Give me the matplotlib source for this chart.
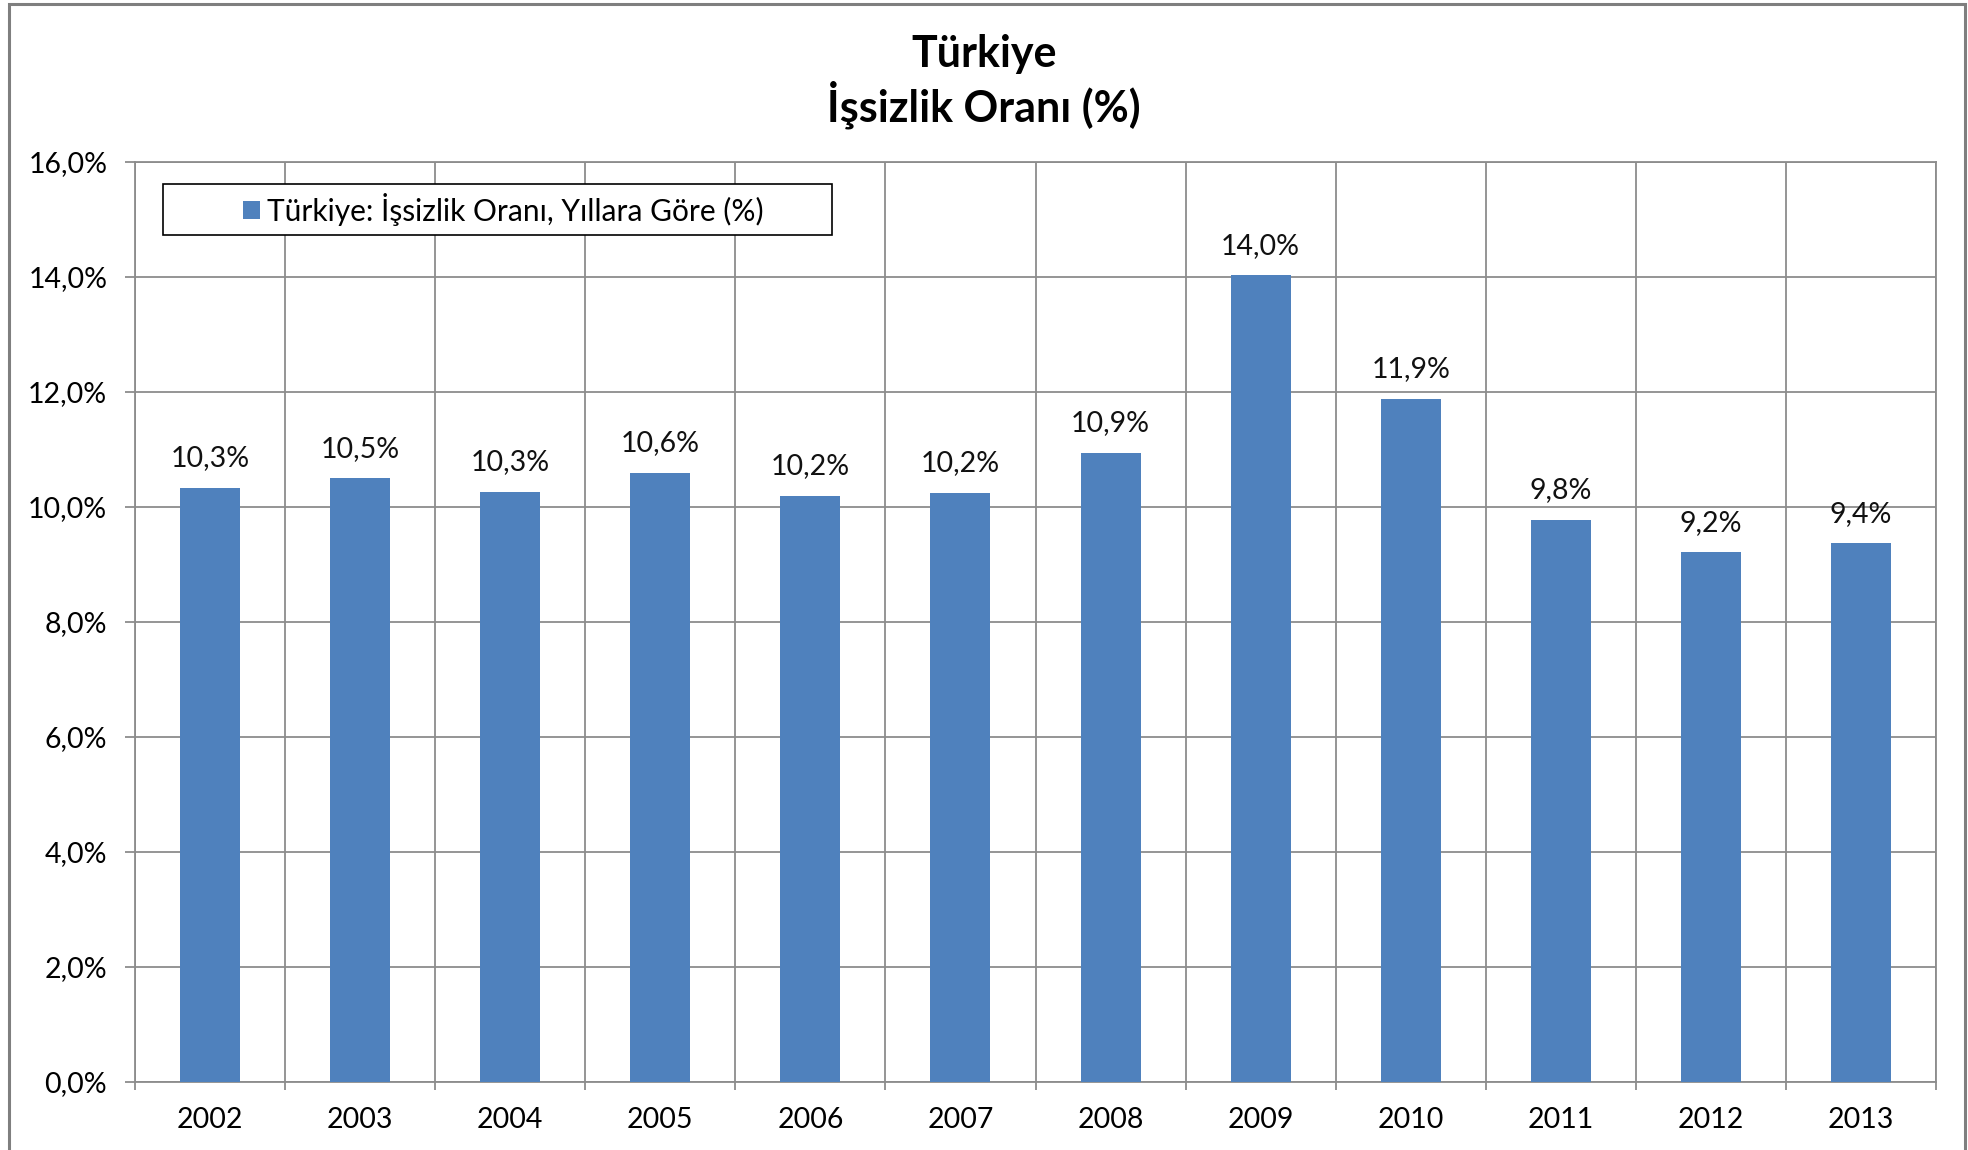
import matplotlib
matplotlib.use('Agg')
import matplotlib.pyplot as plt
from matplotlib.patches import Rectangle
import numpy as np

# Data
years = ['2002', '2003', '2004', '2005', '2006', '2007',
         '2008', '2009', '2010', '2011', '2012', '2013']
rates = [10.33, 10.50, 10.26, 10.59, 10.20, 10.24,
         10.94, 14.03, 11.88, 9.78, 9.21, 9.37]
rate_labels = ['10,3%', '10,5%', '10,3%', '10,6%', '10,2%', '10,2%',
               '10,9%', '14,0%', '11,9%', '9,8%', '9,2%', '9,4%']
yticks = [0, 2, 4, 6, 8, 10, 12, 14, 16]

bar_color = '#4F81BD'
grid_color = '#8C8C8C'

plt.rcParams['font.family'] = ['Lato', 'DejaVu Sans']

W, H = 1968, 1150
fig = plt.figure(figsize=(W / 100, H / 100), dpi=100)

# Plot area in pixels
left, right, top, bottom = 135, 1936, 162, 1082
ax = fig.add_axes([left / W, 1 - bottom / H, (right - left) / W, (bottom - top) / H])

x = np.arange(len(years))
ax.bar(x, rates, width=0.4, color=bar_color, zorder=3,
       label='Türkiye: İşsizlik Oranı, Yıllara Göre (%)')

for xi, v, lab in zip(x, rates, rate_labels):
    ax.annotate(lab, (xi, v), xytext=(0, 12), textcoords='offset points',
                ha='center', va='bottom', fontsize=20.5, color='#111111')

ax.set_xlim(-0.5, len(years) - 0.5)
ax.set_ylim(0, 16)
ax.set_yticks(yticks)
ax.set_yticklabels([f'{t:.1f}'.replace('.', ',') + '%' for t in yticks], fontsize=20.5)
ax.set_xticks(x)
ax.set_xticklabels(years, fontsize=20.5)
ax.set_xticks(np.arange(len(years) + 1) - 0.5, minor=True)

ax.tick_params(axis='y', which='major', length=7, width=1.3, color=grid_color, pad=13)
ax.tick_params(axis='x', which='major', length=0, pad=18)
ax.tick_params(axis='x', which='minor', length=6, width=1.3, color=grid_color)

ax.grid(axis='y', which='major', color=grid_color, linewidth=1.3, zorder=0)
ax.grid(axis='x', which='minor', color=grid_color, linewidth=1.3, zorder=0)
for s in ax.spines.values():
    s.set_color(grid_color)
    s.set_linewidth(1.3)

# legend box (drawn separately so the entry sits centred in a wide frame)
bx0, bx1, by0, by1 = 163, 832, 184, 235
ax.add_patch(Rectangle(((bx0 - left) / (right - left), 1 - (by1 - top) / (bottom - top)),
                       (bx1 - bx0) / (right - left), (by1 - by0) / (bottom - top),
                       transform=ax.transAxes, facecolor='white', edgecolor='#000000',
                       linewidth=1.2, zorder=4))
leg = ax.legend(loc='center',
                bbox_to_anchor=(((bx0 + bx1) / 2 + 6 - left) / (right - left),
                                1 - ((by0 + by1) / 2 - top) / (bottom - top)),
                fontsize=21.5, frameon=False, borderaxespad=0, borderpad=0,
                handlelength=0.55, handleheight=0.55, handletextpad=0.25)
leg.set_zorder(5)

fig.text(0.5, 1 - 54 / H, 'Türkiye', ha='center', va='center', fontsize=31, fontweight='bold')
fig.text(0.5, 1 - 105 / H, 'İşsizlik Oranı (%)', ha='center', va='center', fontsize=31, fontweight='bold')

# outer chart border
fig.patches.append(Rectangle((9 / W, -0.01), (1965 - 9) / W, 1.01 - 4 / H, transform=fig.transFigure,
                             fill=False, edgecolor='#7F7F7F', linewidth=2.2))

fig.savefig('out.png', dpi=100, facecolor='white')
